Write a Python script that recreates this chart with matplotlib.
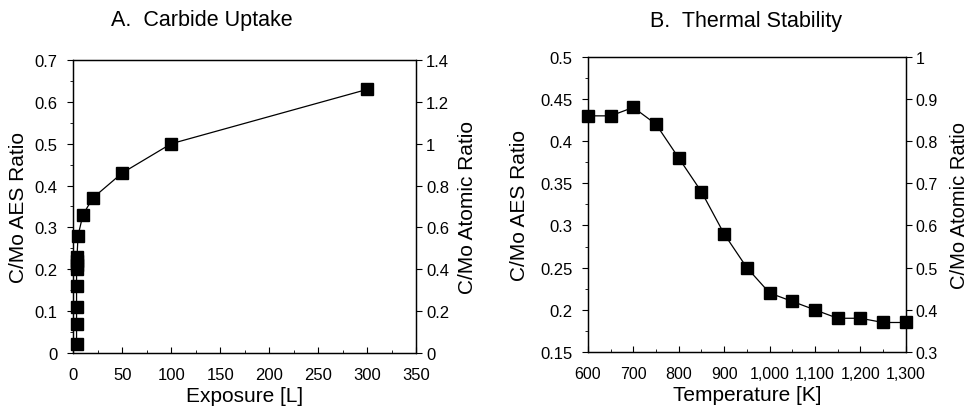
import matplotlib
import matplotlib.pyplot as plt
from matplotlib.ticker import MultipleLocator, FuncFormatter

matplotlib.rc('font', family=['Liberation Sans', 'DejaVu Sans'], size=12)

# Panel A: carbide uptake
exposure = [3.5, 3.5, 3.5, 3.5, 3.5, 4, 4, 4, 5, 10, 20, 50, 100, 300]
aes_a = [0.02, 0.07, 0.11, 0.16, 0.20, 0.21, 0.22, 0.23, 0.28, 0.33, 0.37, 0.43, 0.50, 0.63]

# Panel B: thermal stability
temperature = [600, 650, 700, 750, 800, 850, 900, 950, 1000, 1050, 1100, 1150, 1200, 1250, 1300]
aes_b = [0.43, 0.43, 0.44, 0.42, 0.38, 0.34, 0.29, 0.25, 0.22, 0.21, 0.20, 0.19, 0.19, 0.185, 0.185]

LABEL_SIZE = 15
TITLE_SIZE = 15.5


def fmt_num(v, pos):
    return f'{v:.2f}'.rstrip('0').rstrip('.')


def fmt_thousands(v, pos):
    return f'{int(round(v)):,}'


def style_left(ax, xmaj, xmin, ymaj, ymin):
    ax.xaxis.set_major_locator(MultipleLocator(xmaj))
    ax.xaxis.set_minor_locator(MultipleLocator(xmin))
    ax.yaxis.set_major_locator(MultipleLocator(ymaj))
    ax.yaxis.set_minor_locator(MultipleLocator(ymin))
    ax.yaxis.set_major_formatter(FuncFormatter(fmt_num))
    ax.tick_params(axis='x', which='both', direction='in', pad=10)
    ax.tick_params(axis='x', which='major', length=4)
    ax.tick_params(axis='x', which='minor', length=2)
    ax.tick_params(axis='y', which='major', direction='out', length=4, pad=7)
    ax.tick_params(axis='y', which='minor', direction='out', length=2)


def place_ylabel(ax, text, xpos, size=LABEL_SIZE):
    ax.set_ylabel(text, fontsize=size, rotation=90, ha='center', va='center')
    ax.yaxis.set_label_coords(xpos, 0.5)


fig = plt.figure(figsize=(9.75, 4.1), dpi=100)

# ---------- A ----------
ax1 = fig.add_axes([0.075, 0.137, 0.352, 0.714])
ax1.plot(exposure, aes_a, 'k-', lw=0.9, marker='s', ms=8.5, clip_on=False)
ax1.set_xlim(0, 350)
ax1.set_ylim(0, 0.7)
style_left(ax1, 50, 25, 0.1, 0.05)
ax1.set_xlabel('Exposure [L]', fontsize=LABEL_SIZE, labelpad=3)
place_ylabel(ax1, 'C/Mo AES Ratio', -0.16)
fig.text(0.207, 0.949, 'A.  Carbide Uptake', fontsize=TITLE_SIZE,
         ha='center', va='center')

ax1r = ax1.twinx()
ax1r.set_ylim(0, 1.4)
ax1r.yaxis.set_major_locator(MultipleLocator(0.2))
ax1r.yaxis.set_major_formatter(FuncFormatter(fmt_num))
ax1r.tick_params(axis='y', direction='out', length=4, pad=3)
place_ylabel(ax1r, 'C/Mo Atomic Ratio', 1.148)

# ---------- B ----------
ax2 = fig.add_axes([0.603, 0.139, 0.326, 0.72])
ax2.plot(temperature, aes_b, 'k-', lw=0.9, marker='s', ms=8.5, clip_on=False)
ax2.set_xlim(600, 1300)
ax2.set_ylim(0.15, 0.5)
style_left(ax2, 100, 50, 0.05, 0.025)
ax2.xaxis.set_major_formatter(FuncFormatter(fmt_thousands))
ax2.tick_params(axis='x', labelsize=11.5)
ax2.set_xlabel('Temperature [K]', fontsize=LABEL_SIZE, labelpad=3)
place_ylabel(ax2, 'C/Mo AES Ratio', -0.216)
fig.text(0.765, 0.947, 'B.  Thermal Stability', fontsize=TITLE_SIZE,
         ha='center', va='center')

ax2r = ax2.twinx()
ax2r.set_ylim(0.3, 1.0)
ax2r.yaxis.set_major_locator(MultipleLocator(0.1))
ax2r.yaxis.set_major_formatter(FuncFormatter(fmt_num))
ax2r.tick_params(axis='y', direction='out', length=4, pad=3, labelsize=11.5)
place_ylabel(ax2r, 'C/Mo Atomic Ratio', 1.168, size=14.5)

for ax in (ax1, ax1r, ax2, ax2r):
    for sp in ax.spines.values():
        sp.set_linewidth(0.9)

plt.savefig('out.png', dpi=100)
